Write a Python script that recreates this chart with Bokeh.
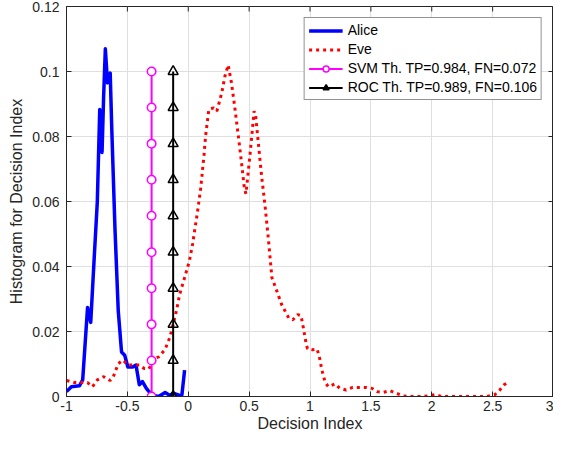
import math
from bokeh.plotting import figure
from bokeh.models import FixedTicker, Legend, LegendItem, Range1d
from bokeh.embed import file_html
from bokeh.resources import INLINE

# ---------------- data ----------------
alice_x = [-1.0, -0.96, -0.894, -0.867, -0.827, -0.801, -0.774, -0.747, -0.727, -0.708,
           -0.695, -0.681, -0.663, -0.641, -0.628, -0.602, -0.575, -0.548, -0.522, -0.496,
           -0.456, -0.429, -0.402, -0.376, -0.344, -0.301, -0.243, -0.19, -0.15, -0.124,
           -0.07, -0.052, -0.03]
alice_y = [0.0015, 0.003, 0.0033, 0.0051, 0.0274, 0.0228, 0.0416, 0.0599, 0.0883, 0.0751,
           0.0924, 0.107, 0.0965, 0.0995, 0.0822, 0.0518, 0.0264, 0.0137, 0.0127, 0.0091,
           0.0091, 0.0097, 0.0036, 0.0046, 0.0025, 0.0005, 0.0, 0.0012, 0.0003, 0.001,
           0.0003, 0.0005, 0.0081]

eve_x = [-1.0, -0.934, -0.827, -0.787, -0.747, -0.695, -0.641, -0.615, -0.575, -0.535,
         -0.496, -0.456, -0.402, -0.362, -0.323, -0.283, -0.243, -0.19, -0.15, -0.124,
         -0.097, -0.07, -0.03, 0.009, 0.036, 0.076, 0.102, 0.129, 0.142, 0.169,
         0.208, 0.235, 0.275, 0.301, 0.328, 0.355, 0.381, 0.408, 0.434, 0.461,
         0.474, 0.501, 0.527, 0.541, 0.554, 0.575, 0.602, 0.633, 0.66, 0.687,
         0.727, 0.766, 0.799, 0.825, 0.859, 0.899, 0.926, 0.947, 0.966, 0.979,
         1.019, 1.058, 1.077, 1.098, 1.125, 1.151, 1.205, 1.245, 1.297, 1.351,
         1.404, 1.457, 1.51, 1.55, 1.603, 1.656, 1.709, 1.763, 1.815, 1.869,
         1.922, 1.975, 2.028, 2.081, 2.134, 2.187, 2.24, 2.293, 2.347, 2.4,
         2.453, 2.519, 2.559, 2.594, 2.62]
eve_y = [0.0049, 0.0043, 0.0043, 0.003, 0.0051, 0.0061, 0.0049, 0.0061, 0.0101, 0.0112,
         0.0097, 0.0097, 0.0097, 0.0086, 0.0085, 0.0115, 0.0122, 0.0145, 0.0183, 0.0223,
         0.0264, 0.0315, 0.0366, 0.0416, 0.047, 0.0568, 0.064, 0.0741, 0.080, 0.0883,
         0.0888, 0.0878, 0.0934, 0.0985, 0.102, 0.0965, 0.0893, 0.0812, 0.0731, 0.064,
         0.0624, 0.0721, 0.0822, 0.0878, 0.0863, 0.0782, 0.068, 0.0579, 0.0477, 0.0366,
         0.0325, 0.0284, 0.026, 0.0242, 0.0236, 0.0252, 0.0249, 0.0208, 0.0168, 0.0147,
         0.0144, 0.0146, 0.0122, 0.0081, 0.0043, 0.003, 0.0039, 0.0025, 0.002, 0.0028,
         0.0028, 0.0028, 0.0025, 0.0015, 0.0013, 0.0018, 0.001, 0.0002, 0.0, 0.0,
         0.0, 0.0002, 0.0006, 0.0, 0.0, 0.0, 0.0, 0.0, 0.0, 0.0,
         0.0, 0.0006, 0.002, 0.0036, 0.0042]

svm_threshold = -0.301
roc_threshold = -0.124
threshold_marker_y = [0.0, 0.0111, 0.0222, 0.0333, 0.0444, 0.0556, 0.0667, 0.0778, 0.0889, 0.1]

series_labels = ["Alice", "Eve", "SVM Th. TP=0.984, FN=0.072", "ROC Th. TP=0.989, FN=0.106"]

x_ticks = [-1, -0.5, 0, 0.5, 1, 1.5, 2, 2.5, 3]
x_tick_labels = ["-1", "-0.5", "0", "0.5", "1", "1.5", "2", "2.5", "3"]
y_ticks = [0, 0.02, 0.04, 0.06, 0.08, 0.1, 0.12]
y_tick_labels = ["0", "0.02", "0.04", "0.06", "0.08", "0.1", "0.12"]

FONT = "Liberation Sans"
AX = "#262626"

# ---------------- figure ----------------
p = figure(width=553, height=434, output_backend="svg", toolbar_location=None,
           x_range=Range1d(-1, 3), y_range=Range1d(0, 0.12),
           min_border_left=66, min_border_right=0, min_border_top=6, min_border_bottom=38)
p.background_fill_color = "white"
p.border_fill_color = "white"
p.outline_line_color = AX
p.outline_line_width = 1

for ax in (p.xaxis[0], p.yaxis[0]):
    ax.axis_line_color = AX
    ax.major_tick_line_color = AX
    ax.major_tick_in = 5
    ax.major_tick_out = 0
    ax.minor_tick_line_color = None
    ax.major_label_text_font = FONT
    ax.major_label_text_font_size = "14px"
    ax.major_label_text_color = AX
    ax.axis_label_text_font = FONT
    ax.axis_label_text_font_size = "16px"
    ax.axis_label_text_font_style = "normal"
    ax.axis_label_text_color = AX

p.xaxis[0].ticker = FixedTicker(ticks=x_ticks)
p.xaxis[0].major_label_overrides = {t: l for t, l in zip(x_ticks, x_tick_labels)}
p.yaxis[0].ticker = FixedTicker(ticks=y_ticks)
p.yaxis[0].major_label_overrides = {t: l for t, l in zip(y_ticks, y_tick_labels)}
p.xaxis[0].axis_label = "Decision Index"
p.yaxis[0].axis_label = "Histogram for Decision Index"
p.xaxis[0].major_label_standoff = 4
p.xaxis[0].axis_label_standoff = 1
p.yaxis[0].major_label_standoff = 7
p.yaxis[0].axis_label_standoff = 4

p.xgrid.ticker = FixedTicker(ticks=x_ticks)
p.ygrid.ticker = FixedTicker(ticks=y_ticks)
p.grid.grid_line_color = "#dfdfdf"
p.grid.grid_line_width = 1

# inward ticks on the top and right edges of the box (clipped to the frame)
p.scatter(x_ticks, [y_ticks[-1]] * len(x_ticks), marker="dash", angle=math.pi / 2,
          size=10, line_color=AX, line_width=1)
p.scatter([x_ticks[-1]] * len(y_ticks), y_ticks, marker="dash",
          size=10, line_color=AX, line_width=1)

# ---------------- glyphs ----------------
r_alice = p.line(alice_x, alice_y, line_color="#0000ff", line_width=3.5, line_join="round")
r_eve = p.line(eve_x, eve_y, line_color="#ff0000", line_width=3, line_dash="3 4")

svm_x = [svm_threshold] * len(threshold_marker_y)
roc_x = [roc_threshold] * len(threshold_marker_y)
r_svm_l = p.line(svm_x, threshold_marker_y, line_color="#ff00ff", line_width=2)
r_svm_m = p.scatter(svm_x, threshold_marker_y, marker="circle", size=8.5,
                    line_color="#ff00ff", line_width=1.5, fill_color="white")
r_roc_l = p.line(roc_x, threshold_marker_y, line_color="#000000", line_width=2)
r_roc_m = p.scatter(roc_x, threshold_marker_y, marker="triangle", size=10,
                    line_color="#000000", line_width=1.5, fill_color=None)

legend = Legend(items=[
    LegendItem(label=series_labels[0], renderers=[r_alice]),
    LegendItem(label=series_labels[1], renderers=[r_eve]),
    LegendItem(label=series_labels[2], renderers=[r_svm_l, r_svm_m]),
    LegendItem(label=series_labels[3], renderers=[r_roc_l, r_roc_m]),
], location="top_right")
legend.label_text_font = FONT
legend.label_text_font_size = "14px"
legend.label_text_color = "#000000"
legend.glyph_width = 34
legend.glyph_height = 15
legend.label_height = 15
legend.spacing = 3
legend.padding = 4
legend.margin = 11
legend.label_standoff = 5
legend.border_line_color = AX
legend.border_line_width = 1
legend.background_fill_color = "white"
legend.background_fill_alpha = 1
p.add_layout(legend, "center")

open("out.html", "w").write(file_html(p, INLINE))
